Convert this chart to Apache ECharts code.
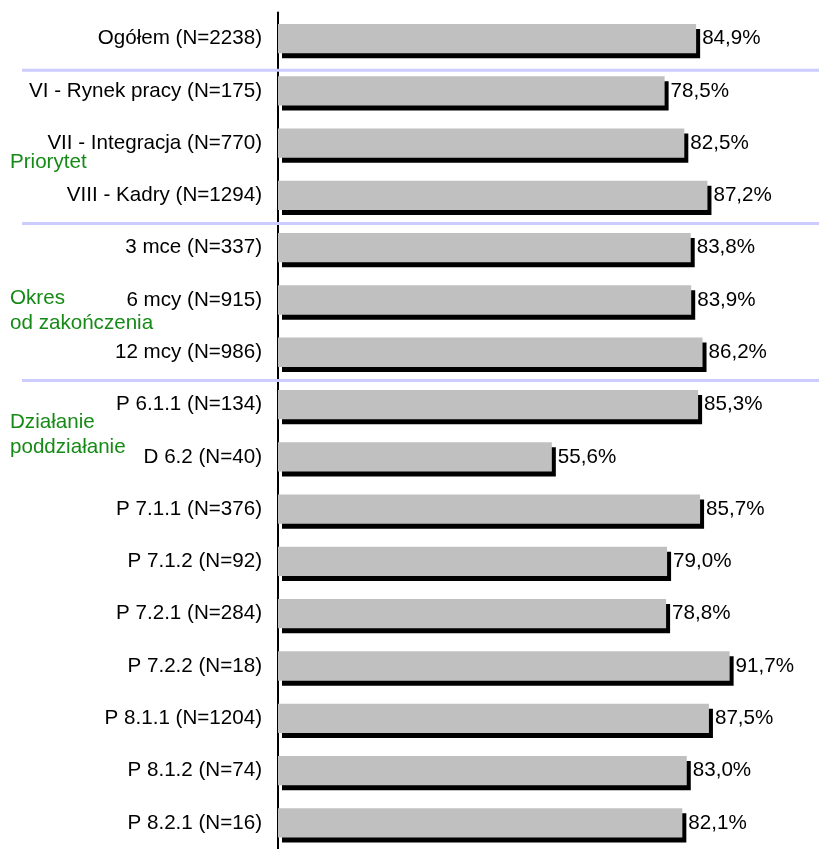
<!DOCTYPE html>
<html>
<head>
<meta charset="utf-8">
<script src="https://cdn.jsdelivr.net/npm/echarts@6/dist/echarts.min.js"></script>
<style>
  html, body { margin: 0; padding: 0; background: #fff; }
  #chart { width: 819px; height: 849px; }
</style>
</head>
<body>
<div id="chart"></div>
<script>
// kategorie i wartości
const categories = [
  'Ogółem (N=2238)',
  'VI - Rynek pracy (N=175)',
  'VII - Integracja (N=770)',
  'VIII - Kadry (N=1294)',
  '3 mce (N=337)',
  '6 mcy (N=915)',
  '12 mcy (N=986)',
  'P 6.1.1 (N=134)',
  'D 6.2 (N=40)',
  'P 7.1.1 (N=376)',
  'P 7.1.2 (N=92)',
  'P 7.2.1 (N=284)',
  'P 7.2.2 (N=18)',
  'P 8.1.1 (N=1204)',
  'P 8.1.2 (N=74)',
  'P 8.2.1 (N=16)'
];
const values = [84.9, 78.5, 82.5, 87.2, 83.8, 83.9, 86.2, 85.3, 55.6, 85.7, 79.0, 78.8, 91.7, 87.5, 83.0, 82.1];

// separatory grup: linia pod kategorią o danym indeksie
const groupEnds = [0, 3, 6];
const groupLabels = ['Priorytet', 'Okres\nod zakończenia', 'Działanie\npoddziałanie'];

const FONT = 'Arial, "Liberation Sans", sans-serif';

const chart = echarts.init(document.getElementById('chart'));

const option = {
  animation: false,
  grid: { left: 278, top: 12.4, width: 492.5, height: 842.7 },
  xAxis: {
    type: 'value',
    min: 0,
    max: 100,
    show: false
  },
  yAxis: {
    type: 'category',
    data: categories,
    inverse: true,
    axisTick: { show: false },
    axisLine: { lineStyle: { color: '#000', width: 2 } },
    axisLabel: { color: '#000', fontSize: 20.6, fontFamily: FONT, margin: 16 }
  },
  series: [{
    type: 'bar',
    data: values,
    barWidth: 29.3,
    itemStyle: {
      color: '#c0c0c0',
      shadowColor: '#000',
      shadowBlur: 0,
      shadowOffsetX: 4,
      shadowOffsetY: 5
    },
    label: {
      show: true,
      position: 'right',
      distance: 6,
      color: '#000',
      fontSize: 20.6,
      fontFamily: FONT,
      formatter: p => p.value.toFixed(1).replace('.', ',') + '%'
    }
  }]
};

chart.setOption(option);

// linie rozdzielające grupy + podpisy grup
const half = chart.convertToPixel({ yAxisIndex: 0 }, categories[1]) - chart.convertToPixel({ yAxisIndex: 0 }, categories[0]);
const offsets = [5.5, 2, 2];
const graphics = groupEnds.map((idx, i) => {
  const y = chart.convertToPixel({ yAxisIndex: 0 }, categories[idx]) + half / 2 + offsets[i];
  return {
    type: 'line',
    z: 100,
    shape: { x1: 22, y1: y, x2: 819, y2: y },
    style: { stroke: '#ccccff', lineWidth: 3 }
  };
});
const labelY = [162, 311, 435];
groupLabels.forEach((t, i) => {
  graphics.push({
    type: 'text',
    z: 100,
    x: 10,
    y: labelY[i],
    style: {
      text: t,
      fill: '#168a16',
      font: '20.6px ' + FONT,
      lineHeight: 25,
      verticalAlign: 'middle',
      align: 'left'
    }
  });
});
chart.setOption({ graphic: graphics });
</script>
</body>
</html>
